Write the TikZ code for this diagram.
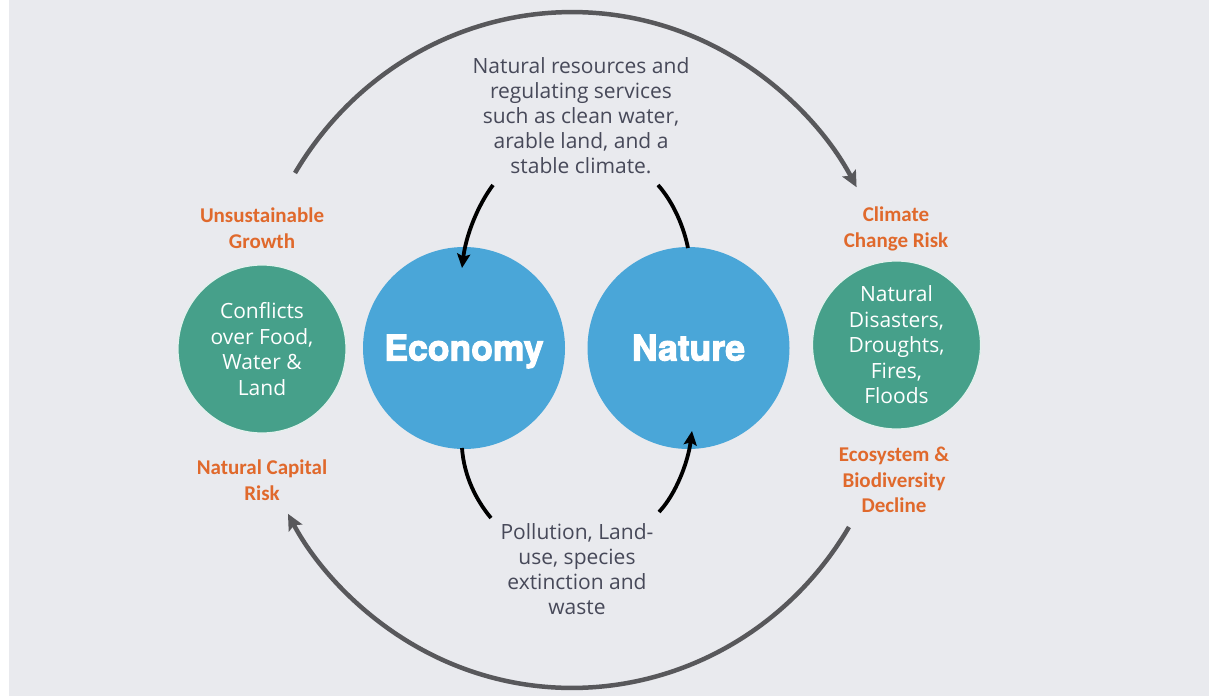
\documentclass[tikz,border=0pt]{standalone}
\usepackage{fontspec}
\setmainfont{Open Sans}
\newfontfamily\labelfont{Carlito}
\newfontfamily\heavyfont[FakeBold=3]{TeX Gyre Heros}
\usetikzlibrary{arrows.meta}
\definecolor{bg}{HTML}{E9EAEE}
\definecolor{hubblue}{HTML}{4AA6D8}
\definecolor{riskgreen}{HTML}{46A08A}
\definecolor{riskorange}{HTML}{E0692C}
\definecolor{inktext}{HTML}{474959}
\definecolor{loopgray}{HTML}{58585B}
\tikzset{
  hub/.style={circle, fill=hubblue, minimum size=202pt, inner sep=0pt,
    text height=25pt, text depth=0pt,
    text=white, font=\heavyfont\bfseries\fontsize{35.5}{40}\selectfont},
  impact/.style={circle, fill=riskgreen, draw=white!85!riskgreen, line width=1.2pt,
    minimum size=168pt, inner sep=0pt, text=white, align=center,
    font=\fontsize{21}{25.5}\selectfont},
  risklabel/.style={text=riskorange, align=center,
    font=\labelfont\bfseries\fontsize{21}{25.5}\selectfont},
  flowtext/.style={text=inktext, align=center, font=\fontsize{21}{25}\selectfont},
  outerloop/.style={draw=loopgray, line width=4.5pt,
    -{Stealth[length=16pt, width=15pt, inset=3pt]}},
  innerflow/.style={draw=black, line width=3.8pt},
  innertip/.style={-{Stealth[length=14pt, width=13pt, inset=2.5pt]}}
}
\begin{document}
\begin{tikzpicture}[x=1pt, y=-1pt]
  % canvas
  \fill[white] (0,0) rectangle (1209,696);
  \fill[bg] (9,0) rectangle (1209,696);
  \useasboundingbox (0,0) rectangle (1209,696);

  % central pair
  \node[hub] (eco) at (464,348) {Economy};
  \node[hub] (nat) at (688.5,348) {Nature};

  % side impacts
  \node[impact] (conf) at (262,349) {Conflicts\\over Food,\\Water \&\\Land};
  \node[impact] (dis) at (896.5,345) {Natural\\Disasters,\\Droughts,\\Fires,\\Floods};

  % risk labels
  \node[risklabel] (unsus) at (262,228) {Unsustainable\\Growth};
  \node[risklabel] (capital) at (262,480) {Natural Capital\\Risk};
  \node[risklabel] (climate) at (896,229) {Climate\\Change Risk};
  \node[risklabel] (ecosys) at (894,480) {Ecosystem \&\\Biodiversity\\Decline};

  % flow descriptions
  \node[flowtext] (supply) at (581,116) {Natural resources and\\regulating services\\such as clean water,\\arable land, and a\\stable climate.};
  \node[flowtext] (impacts) at (577,569) {Pollution, Land-\\use, species\\extinction and\\waste};

  % end points of the inner flows
  \coordinate (supplyL) at (493,185);
  \coordinate (supplyR) at (658,185);
  \coordinate (ecoIn) at (462,268);
  \coordinate (natOut) at (688,248);
  \coordinate (ecoOut) at (462,448);
  \coordinate (impactsL) at (491,518);
  \coordinate (impactsR) at (659,512);
  \coordinate (natIn) at (692,431);

  % resources flow from nature to the economy
  \draw[innerflow, line cap=butt] (natOut) .. controls (684,228) and (674,203) .. (supplyR);
  \draw[innerflow, innertip] (supplyL) .. controls (478,205) and (466,235) .. (ecoIn);
  % pressures flow from the economy back to nature
  \draw[innerflow] (ecoOut) .. controls (464,476) and (476,500) .. (impactsL);
  \draw[innerflow, innertip] (impactsR) .. controls (676,494) and (688,462) .. (natIn);

  % outer feedback loop
  \coordinate (loopTop) at (295,173);
  \coordinate (loopBottom) at (849,527);
  \draw[outerloop] (loopTop) arc[start angle=211.6, end angle=331.2, x radius=325, y radius=338];
  \draw[outerloop] (loopBottom) arc[start angle=31.6, end angle=151, x radius=325, y radius=338];
\end{tikzpicture}
\end{document}
